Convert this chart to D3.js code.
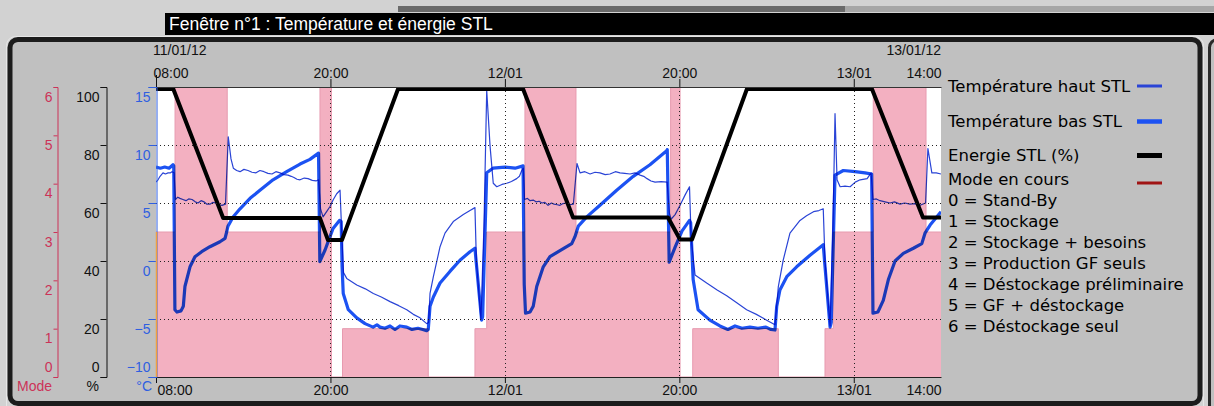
<!DOCTYPE html>
<html>
<head>
<meta charset="utf-8">
<script src="https://cdn.jsdelivr.net/npm/d3@7"></script>
<style>
  html, body { margin: 0; padding: 0; background: #d2d2d2; }
  svg { display: block; }
</style>
</head>
<body>
<svg id="chart" width="1214" height="406"></svg>
<script>
// ---- Data (time in hours after 11/01/12 08:00) ----
const startTime = new Date(2012, 0, 11, 8, 0);
const endHour = 54;

const timeTickHours = [0, 12, 24, 36, 48, 54];
const timeTickLabels = ["08:00", "20:00", "12/01", "20:00", "13/01", "14:00"];
const dateLabels = ["11/01/12", "13/01/12"];

const tempTicks = [-10, -5, 0, 5, 10, 15];
const tempGrid = [-5, 0, 5, 10];
const pctTicks = [0, 20, 40, 60, 80, 100];
const modeTicks = [0, 1, 2, 3, 4, 5, 6];

// Operating mode (step function, value holds until next change)
const modeHours  = [0, 1.31, 4.9, 11.28, 12.07, 12.83, 18.73, 21.94, 22.75, 25.38, 28.89, 35.4, 36.05, 36.92, 42.81, 46.02, 46.59, 49.34, 52.97, 54];
const modeValues = [3, 6,    3,   6,     0,     1,     0,     1,     3,     6,     3,     6,    0,     1,     0,     1,     3,     6,     3,     3];

// Stored energy (%)
const energyHours  = [0, 1.19, 4.62, 11.28, 11.83, 12.79, 16.65, 25.25, 28.69, 35.22, 36.05, 36.87, 40.65, 49.25, 52.76, 54];
const energyValues = [99.3, 99.3, 54.8, 54.8, 47.2, 47.2, 99.3, 99.3, 55, 55, 47.4, 47.4, 99.3, 99.3, 55, 55];

// Bottom-of-tank temperature (°C)
const basSTL = [
  [0,8.1],[0.3,8.0],[0.6,8.1],[0.9,8.0],[1.17,8.3],[1.22,8.2],
  [1.3,-4.2],[1.44,-4.4],[1.72,-4.3],[1.88,-3.9],[1.99,-2.2],[2.34,-0.5],[2.68,0.37],[3.14,0.8],[3.71,1.23],[4.4,1.66],[4.75,1.95],[4.86,2.5],[4.95,3.0],[5.3,3.8],[5.78,4.5],[6.47,5.4],[7.15,6.1],[8.05,7.0],[8.99,7.7],[9.91,8.36],[10.59,8.76],[11.18,9.3],
  [11.27,-0.05],[11.63,0.95],[11.97,2.1],[12.18,2.8],[12.62,3.5],[12.74,3.4],[12.8,-0.5],[12.88,-2.8],[13.23,-4.2],[13.81,-4.9],[14.38,-5.4],[14.93,-5.7],[15.2,-5.5],[15.41,-5.7],[15.75,-5.8],[16.1,-5.6],[16.44,-5.9],[16.78,-5.6],[17.25,-5.7],[17.61,-5.9],[18.02,-5.8],[18.35,-5.9],[18.62,-6.0],[18.73,-5.9],
  [18.85,-3.9],[19.08,-3.1],[19.54,-1.9],[20.22,-0.9],[20.91,0.06],[21.6,0.8],[21.94,1.1],[22.02,0.0],[22.4,-5.1],[22.47,-4.8],[22.75,7.6],[23.18,8.0],[24.01,8.1],[24.7,8.0],[25.25,8.2],
  [25.33,-2.0],[25.42,-4.5],[25.73,-4.4],[25.95,-3.9],[26.19,-2.2],[26.64,-0.5],[27.1,0.37],[27.79,0.9],[28.6,1.5],[28.82,2.1],[29.05,3.0],[29.63,3.8],[30.54,4.8],[31.69,6.1],[32.83,7.3],[33.98,8.3],[35.13,9.5],[35.17,9.6],
  [35.3,-0.1],[35.71,1.2],[36.19,2.6],[36.7,3.5],[36.78,3.3],[36.95,-1.6],[37.29,-4.2],[38.1,-5.1],[38.79,-5.6],[39.34,-5.9],[39.83,-5.6],[40.31,-5.8],[40.86,-5.7],[41.41,-5.8],[41.96,-5.7],[42.3,-5.9],[42.58,-5.95],
  [42.7,-3.9],[42.92,-2.5],[43.39,-1.35],[44.07,-0.5],[44.99,0.5],[45.9,1.4],[45.99,0.0],[46.37,-5.7],[46.45,-5.3],[46.71,7.4],[47.28,7.8],[48.09,7.7],[48.77,7.6],[49.23,7.5],
  [49.32,-4.5],[49.66,-4.4],[50.03,-3.4],[50.38,-1.6],[50.84,0.0],[51.41,0.66],[52.1,1.1],[52.68,1.5],[52.9,2.4],[53.25,3.1],[54,4.25]
];

// Top-of-tank temperature (°C)
const hautSTL = [
  [0,6.8],[0.14,7.0],[0.28,7.3],[0.48,7.6],[0.65,7.5],[0.83,7.6],[1.0,7.6],[1.1,7.7],[1.24,7.6],
  [1.34,5.3],[1.5,5.5],[1.65,5.4],[1.85,5.3],[2.06,5.2],[2.25,5.35],[2.48,5.3],[2.7,5.1],[2.89,5.0],[3.1,5.2],[3.3,5.1],[3.5,4.9],[3.71,4.9],[3.9,5.05],[4.13,5.0],[4.35,4.85],[4.54,4.8],[4.78,4.9],
  [4.97,10.7],[5.16,8.8],[5.32,8.0],[5.55,7.8],[5.78,7.7],[6.05,7.9],[6.33,7.8],[6.6,7.65],[6.88,7.6],[7.15,7.8],[7.43,7.7],[7.7,7.55],[7.98,7.5],[8.25,7.7],[8.53,7.6],[8.8,7.45],[9.08,7.4],[9.3,7.3],[9.49,7.2],[9.7,7.05],[9.91,7.0],[10.2,7.15],[10.46,7.1],[10.75,6.95],[11.01,6.9],[11.18,7.0],
  [11.32,4.5],[11.49,3.8],[11.76,4.3],[11.97,4.7],[12.2,5.3],[12.43,5.8],[12.66,6.1],
  [12.79,2.0],[12.9,-1.0],[13.12,-1.5],[13.81,-2.07],[14.4,-2.4],[14.95,-2.8],[15.5,-3.1],[16.1,-3.5],[16.7,-3.85],[17.25,-4.2],[17.7,-4.6],[18.16,-4.9],[18.62,-5.4],[18.75,-5.3],
  [18.85,-2.8],[19.08,-1.35],[19.54,1.23],[19.88,2.4],[20.45,3.4],[21.14,4.0],[21.6,4.35],[21.94,4.6],
  [22.04,0.0],[22.35,-5.0],[22.56,3.0],[22.75,14.7],[22.98,9.9],[23.2,6.7],[23.44,6.4],[23.8,6.6],[24.12,6.7],[24.45,6.85],[24.81,7.1],[25.0,7.3],[25.16,7.8],[25.27,8.0],
  [25.35,5.3],[25.55,5.4],[25.73,5.2],[25.95,5.25],[26.14,5.1],[26.35,5.15],[26.55,5.0],[26.75,5.05],[26.97,4.8],[27.2,5.0],[27.38,4.9],[27.6,4.85],[27.79,4.8],[28.0,4.95],[28.2,5.0],[28.45,4.85],[28.71,4.9],
  [28.96,8.4],[29.17,7.6],[29.5,7.7],[29.86,7.5],[30.2,7.65],[30.54,7.6],[30.9,7.45],[31.23,7.5],[31.6,7.7],[31.92,7.6],[32.25,7.55],[32.61,7.5],[32.95,7.6],[33.3,7.4],[33.55,7.3],[33.78,7.1],[34.05,6.9],[34.33,6.8],[34.75,6.85],[35.16,6.8],
  [35.32,4.1],[35.43,3.6],[35.71,4.0],[36.05,4.8],[36.4,5.7],[36.7,6.4],
  [36.81,2.0],[37.08,-1.2],[37.88,-1.9],[38.6,-2.5],[39.26,-3.0],[39.95,-3.6],[40.63,-4.2],[41.3,-4.6],[42.01,-5.1],[42.58,-5.5],
  [42.81,-2.2],[43.15,0.1],[43.61,2.4],[44.3,3.5],[44.75,3.9],[45.23,4.25],[45.6,4.35],[45.9,4.5],
  [46.02,0.0],[46.37,-5.6],[46.57,3.0],[46.71,12.7],[46.85,7.0],[47.06,6.4],[47.4,6.45],[47.75,6.4],[48.1,6.8],[48.44,7.0],[48.92,7.1],[49.19,7.6],
  [49.32,5.3],[49.55,5.35],[49.8,5.2],[50.15,5.1],[50.49,5.0],[50.8,5.1],[51.18,4.9],[51.5,5.0],[51.87,4.9],[52.2,4.95],[52.56,4.8],[52.94,5.0],
  [53.1,9.7],[53.37,7.6],[53.67,7.6],[54,7.5]
];

const legendLabels = ["Température haut STL", "Température bas STL", "Energie STL (%)", "Mode en cours"];
const modeLabels = [
  "0 = Stand-By", "1 = Stockage", "2 = Stockage + besoins", "3 = Production GF seuls",
  "4 = Déstockage préliminaire", "5 = GF + déstockage", "6 = Déstockage seul"
];

// ---- Styles ----
const C = {
  haut: "#2a44d6", bas: "#1c52f2", energy: "#000000", modeLine: "#a01414",
  modeFill: "#f3b0c1", modeEdge: "#e79bb0", modeAxis: "#cc3358", tempAxis: "#2f5fe0",
  panel: "#c0c0c0", frame: "#1c1c1c"
};
const legendStyle = [
  { color: C.haut, width: 3 }, { color: C.bas, width: 4.5 },
  { color: C.energy, width: 5 }, { color: C.modeLine, width: 3 }
];
const SANS = "Liberation Sans, Arial, sans-serif";

// ---- Layout ----
const P = { left: 156, right: 941, top: 87, bottom: 377 };
const toDate = h => new Date(startTime.getTime() + h * 3600e3);

const svg = d3.select("#chart");

// Window chrome
svg.append("rect").attr("x", 398).attr("y", 6).attr("width", 447).attr("height", 6).attr("fill", "#6a6a6a");
svg.append("rect").attr("x", 845).attr("y", 6).attr("width", 369).attr("height", 6).attr("fill", "#a6a6a6");
svg.append("rect").attr("x", 165).attr("y", 13).attr("width", 1049).attr("height", 22).attr("fill", "#000");
svg.append("text").attr("x", 169).attr("y", 30)
  .attr("font-family", SANS).attr("font-size", 17.5).attr("fill", "#fff")
  .text("Fenêtre n°1 : Température et énergie STL");

svg.append("rect").attr("x", 1209.5).attr("y", 39.5).attr("width", 30).attr("height", 380).attr("rx", 8)
  .attr("fill", C.panel).attr("stroke", "#2a2a2a").attr("stroke-width", 3);
svg.append("rect").attr("x", 6.5).attr("y", 36.5).attr("width", 1197).attr("height", 380).attr("rx", 9)
  .attr("fill", "none").attr("stroke", "#e6e6e6").attr("stroke-width", 1);
svg.append("rect").attr("x", 10).attr("y", 39.5).attr("width", 1190).attr("height", 364).attr("rx", 8)
  .attr("fill", C.panel).attr("stroke", C.frame).attr("stroke-width", 5);

// ---- Scales ----
const x = d3.scaleTime().domain([toDate(0), toDate(endHour)]).range([P.left, P.right]);
const yT = d3.scaleLinear().domain([-10, 15]).range([P.bottom, P.top]);
const yP = d3.scaleLinear().domain([0, 100]).range([P.bottom, P.top]);
const yM = d3.scaleLinear().domain([0, 6]).range([P.bottom, P.top]);

// Plot background
svg.append("rect").attr("x", P.left).attr("y", P.top)
  .attr("width", P.right - P.left).attr("height", P.bottom - P.top).attr("fill", "#fff");

svg.append("clipPath").attr("id", "plotClip").append("rect")
  .attr("x", P.left).attr("y", P.top).attr("width", P.right - P.left).attr("height", P.bottom - P.top);

const plot = svg.append("g").attr("clip-path", "url(#plotClip)");

// Mode area
const modeData = modeHours.map((h, i) => [h, modeValues[i]]);
plot.append("path").datum(modeData)
  .attr("fill", C.modeFill)
  .attr("d", d3.area().curve(d3.curveStepAfter)
    .x(d => x(toDate(d[0]))).y0(yM(0)).y1(d => yM(d[1])));
plot.append("path").datum(modeData)
  .attr("fill", "none").attr("stroke", C.modeEdge).attr("stroke-width", 1)
  .attr("d", d3.line().curve(d3.curveStepAfter).x(d => x(toDate(d[0]))).y(d => yM(d[1])));

// Gridlines
const gridG = svg.append("g").attr("stroke", "#222").attr("stroke-width", 1).attr("stroke-dasharray", "1,3");
gridG.selectAll("line.h").data(tempGrid).join("line").attr("class", "h")
  .attr("x1", P.left).attr("x2", P.right)
  .attr("y1", d => Math.round(yT(d)) + 0.5).attr("y2", d => Math.round(yT(d)) + 0.5);
gridG.selectAll("line.v").data(timeTickHours.slice(1, -1)).join("line").attr("class", "v")
  .attr("x1", d => Math.round(x(toDate(d))) + 0.5).attr("x2", d => Math.round(x(toDate(d))) + 0.5)
  .attr("y1", P.top).attr("y2", P.bottom);

// Energy line
const energyData = energyHours.map((h, i) => [h, energyValues[i]]);
plot.append("path").datum(energyData)
  .attr("fill", "none").attr("stroke", C.energy).attr("stroke-width", 4).attr("stroke-linejoin", "round")
  .attr("d", d3.line().x(d => x(toDate(d[0]))).y(d => yP(d[1])));

// Temperature lines
const tLine = d3.line().x(d => x(toDate(d[0]))).y(d => yT(d[1]));
plot.append("path").datum(hautSTL)
  .attr("fill", "none").attr("stroke", C.haut).attr("stroke-width", 1.2).attr("stroke-linejoin", "round")
  .style("mix-blend-mode", "multiply")
  .attr("d", tLine);
plot.append("path").datum(basSTL)
  .attr("fill", "none").attr("stroke", C.bas).attr("stroke-width", 3.2).attr("stroke-linejoin", "round")
  .style("mix-blend-mode", "multiply")
  .attr("d", tLine);

// ---- Axes ----
function styleAxis(g, color, size) {
  g.attr("font-family", SANS).attr("font-size", size).attr("color", color);
}

const tickDates = timeTickHours.map(toDate);
const lastIdx = timeTickHours.length - 1;
const anchorFor = i => i === 0 ? "start" : (i === lastIdx ? "end" : "middle");

// Top time axis
const topAxis = svg.append("g").attr("transform", `translate(0,${P.top})`)
  .call(d3.axisTop(x).tickValues(tickDates).tickSize(8).tickSizeOuter(0).tickPadding(1)
    .tickFormat((d, i) => timeTickLabels[i]));
styleAxis(topAxis, "#111", 14);
topAxis.selectAll(".tick text").attr("text-anchor", (d, i) => anchorFor(i)).attr("dx", (d, i) => i === 0 ? -3 : 0);
topAxis.selectAll(".tick line").filter((d, i) => i === lastIdx).remove();
topAxis.selectAll(".tick line").filter((d, i) => i === 0).attr("y2", -12);
topAxis.select(".domain").attr("stroke", "#333");

// Date labels above the first and last ticks
svg.append("g").attr("font-family", SANS).attr("font-size", 14).attr("fill", "#111")
  .selectAll("text").data(dateLabels).join("text")
  .attr("x", (d, i) => i === 0 ? x(tickDates[0]) - 3 : x(tickDates[lastIdx]))
  .attr("y", 55).attr("text-anchor", (d, i) => i === 0 ? "start" : "end").text(d => d);

// Bottom time axis
const botAxis = svg.append("g").attr("transform", `translate(0,${P.bottom})`)
  .call(d3.axisBottom(x).tickValues(tickDates).tickSize(6).tickSizeOuter(0).tickPadding(2)
    .tickFormat((d, i) => timeTickLabels[i]));
styleAxis(botAxis, "#111", 14);
botAxis.selectAll(".tick text").attr("text-anchor", (d, i) => anchorFor(i)).attr("dx", (d, i) => i === 0 ? 1 : 0);
botAxis.selectAll(".tick line").filter((d, i) => i === lastIdx).remove();
botAxis.select(".domain").attr("stroke", "#222");

// Left value axes
function valueAxis(xPos, scale, ticks, color, tickLen, labelX) {
  const g = svg.append("g").attr("transform", `translate(${xPos},0)`)
    .call(d3.axisLeft(scale).tickValues(ticks).tickSize(tickLen).tickSizeOuter(tickLen)
      .tickFormat(d3.format("d")));
  styleAxis(g, color, 14);
  const lo = d3.min(ticks);
  g.selectAll(".tick text").attr("x", labelX).attr("dy", d => d === lo ? "-0.42em" : "1.0em");
  return g;
}
valueAxis(57.5, yM, modeTicks, C.modeAxis, 4, -5);
valueAxis(106.5, yP, pctTicks, "#111", 6, -7);
valueAxis(156.5, yT, tempTicks, C.tempAxis, 8, -6);

// Mode trace start on the left edge
svg.append("line")
  .attr("x1", x(toDate(modeHours[0])) + 0.5).attr("x2", x(toDate(modeHours[0])) + 0.5)
  .attr("y1", yM(0)).attr("y2", yM(modeValues[0]))
  .attr("stroke", "#f0a040").attr("stroke-width", 1.5);

// Unit labels
const unitG = svg.append("g").attr("font-family", SANS).attr("font-size", 14);
unitG.append("text").attr("x", 17).attr("y", 391).attr("fill", C.modeAxis).text("Mode");
unitG.append("text").attr("x", 99).attr("y", 391).attr("text-anchor", "end").attr("fill", "#111").text("%");
unitG.append("text").attr("x", 152).attr("y", 391).attr("text-anchor", "end").attr("fill", C.tempAxis).text("°C");

// ---- Legend ----
const legendRowsY = [86, 121.5, 155.5, 179];
const legG = svg.append("g").attr("font-family", "DejaVu Sans, sans-serif").attr("font-size", 16.5).attr("fill", "#000");
legG.selectAll("text.series").data(legendLabels).join("text").attr("class", "series")
  .attr("x", 948).attr("y", (d, i) => legendRowsY[i]).attr("dy", "0.36em").text(d => d);
legG.selectAll("line.sample").data(legendStyle).join("line").attr("class", "sample")
  .attr("x1", 1137).attr("x2", 1162)
  .attr("y1", (d, i) => legendRowsY[i] + (i === 3 ? 4 : 0)).attr("y2", (d, i) => legendRowsY[i] + (i === 3 ? 4 : 0))
  .attr("stroke", d => d.color).attr("stroke-width", d => d.width);
legG.selectAll("text.mode").data(modeLabels).join("text").attr("class", "mode")
  .attr("x", 948).attr("y", (d, i) => 200.5 + i * 20.9).attr("dy", "0.36em").text(d => d);
</script>
</body>
</html>
